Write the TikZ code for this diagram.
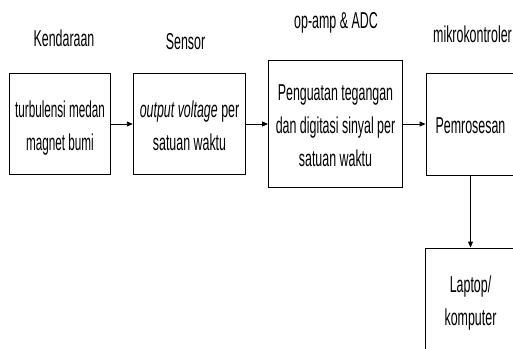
\documentclass[tikz,border=0pt]{standalone}
\usepackage{fontspec}
\setmainfont{Liberation Sans}[FakeStretch=0.54]
\newfontfamily\narrowfont{Liberation Sans}[FakeStretch=0.509]
\usetikzlibrary{arrows.meta}
\newcommand\lnstrut{\rule[-7pt]{0pt}{33pt}}
\tikzset{
  box/.style={draw=black, line width=0.9pt, rectangle, inner sep=0pt, align=center,
    font=\fontsize{23}{33}\selectfont},
  lbl/.style={anchor=base, inner sep=0pt, font=\fontsize{23}{33}\selectfont},
  conn/.style={draw=black, line width=0.9pt, -{Triangle[length=6pt,width=5pt]}},
}
\begin{document}
\begin{tikzpicture}[x=1pt,y=-1pt]
\useasboundingbox (0,0) rectangle (513,348);
\clip (0,0) rectangle (513,348);
\node[box, minimum width=101pt, minimum height=101.5pt, font=\narrowfont\fontsize{23}{33}\selectfont] (b1) at (60,124) {turbulensi medan\lnstrut\\magnet bumi\lnstrut};
\node[box, minimum width=112.5pt, minimum height=101.5pt] (b2) at (189.5,124) {\textit{output voltage} per\lnstrut\\satuan waktu\lnstrut};
\node[box, minimum width=134pt, minimum height=127pt] (b3) at (335.5,123.5) {Penguatan tegangan\lnstrut\\dan digitasi sinyal per\lnstrut\\satuan waktu\lnstrut};
\node[box, minimum width=89pt, minimum height=102pt] (b4) at (470.5,124) {Pemrosesan\lnstrut};
\node[box, minimum width=91pt, minimum height=102pt] (b5) at (470.5,299) {Laptop/\lnstrut\\komputer\lnstrut};
\node[lbl] (l1) at (64,46.5) {Kendaraan};
\node[lbl] (l2) at (185.5,49) {Sensor};
\node[lbl] (l3) at (336,28) {op-amp \& ADC};
\node[lbl] (l4) at (472.5,42.5) {mikrokontroler};
\draw[conn] (b1.east |- 0,124) -- (b2.west |- 0,124);
\draw[conn] (b2.east |- 0,124) -- (b3.west |- 0,124);
\draw[conn] (b3.east |- 0,124) -- (b4.west |- 0,124);
\draw[conn] (b4.south) -- (b5.north);
\end{tikzpicture}
\end{document}
